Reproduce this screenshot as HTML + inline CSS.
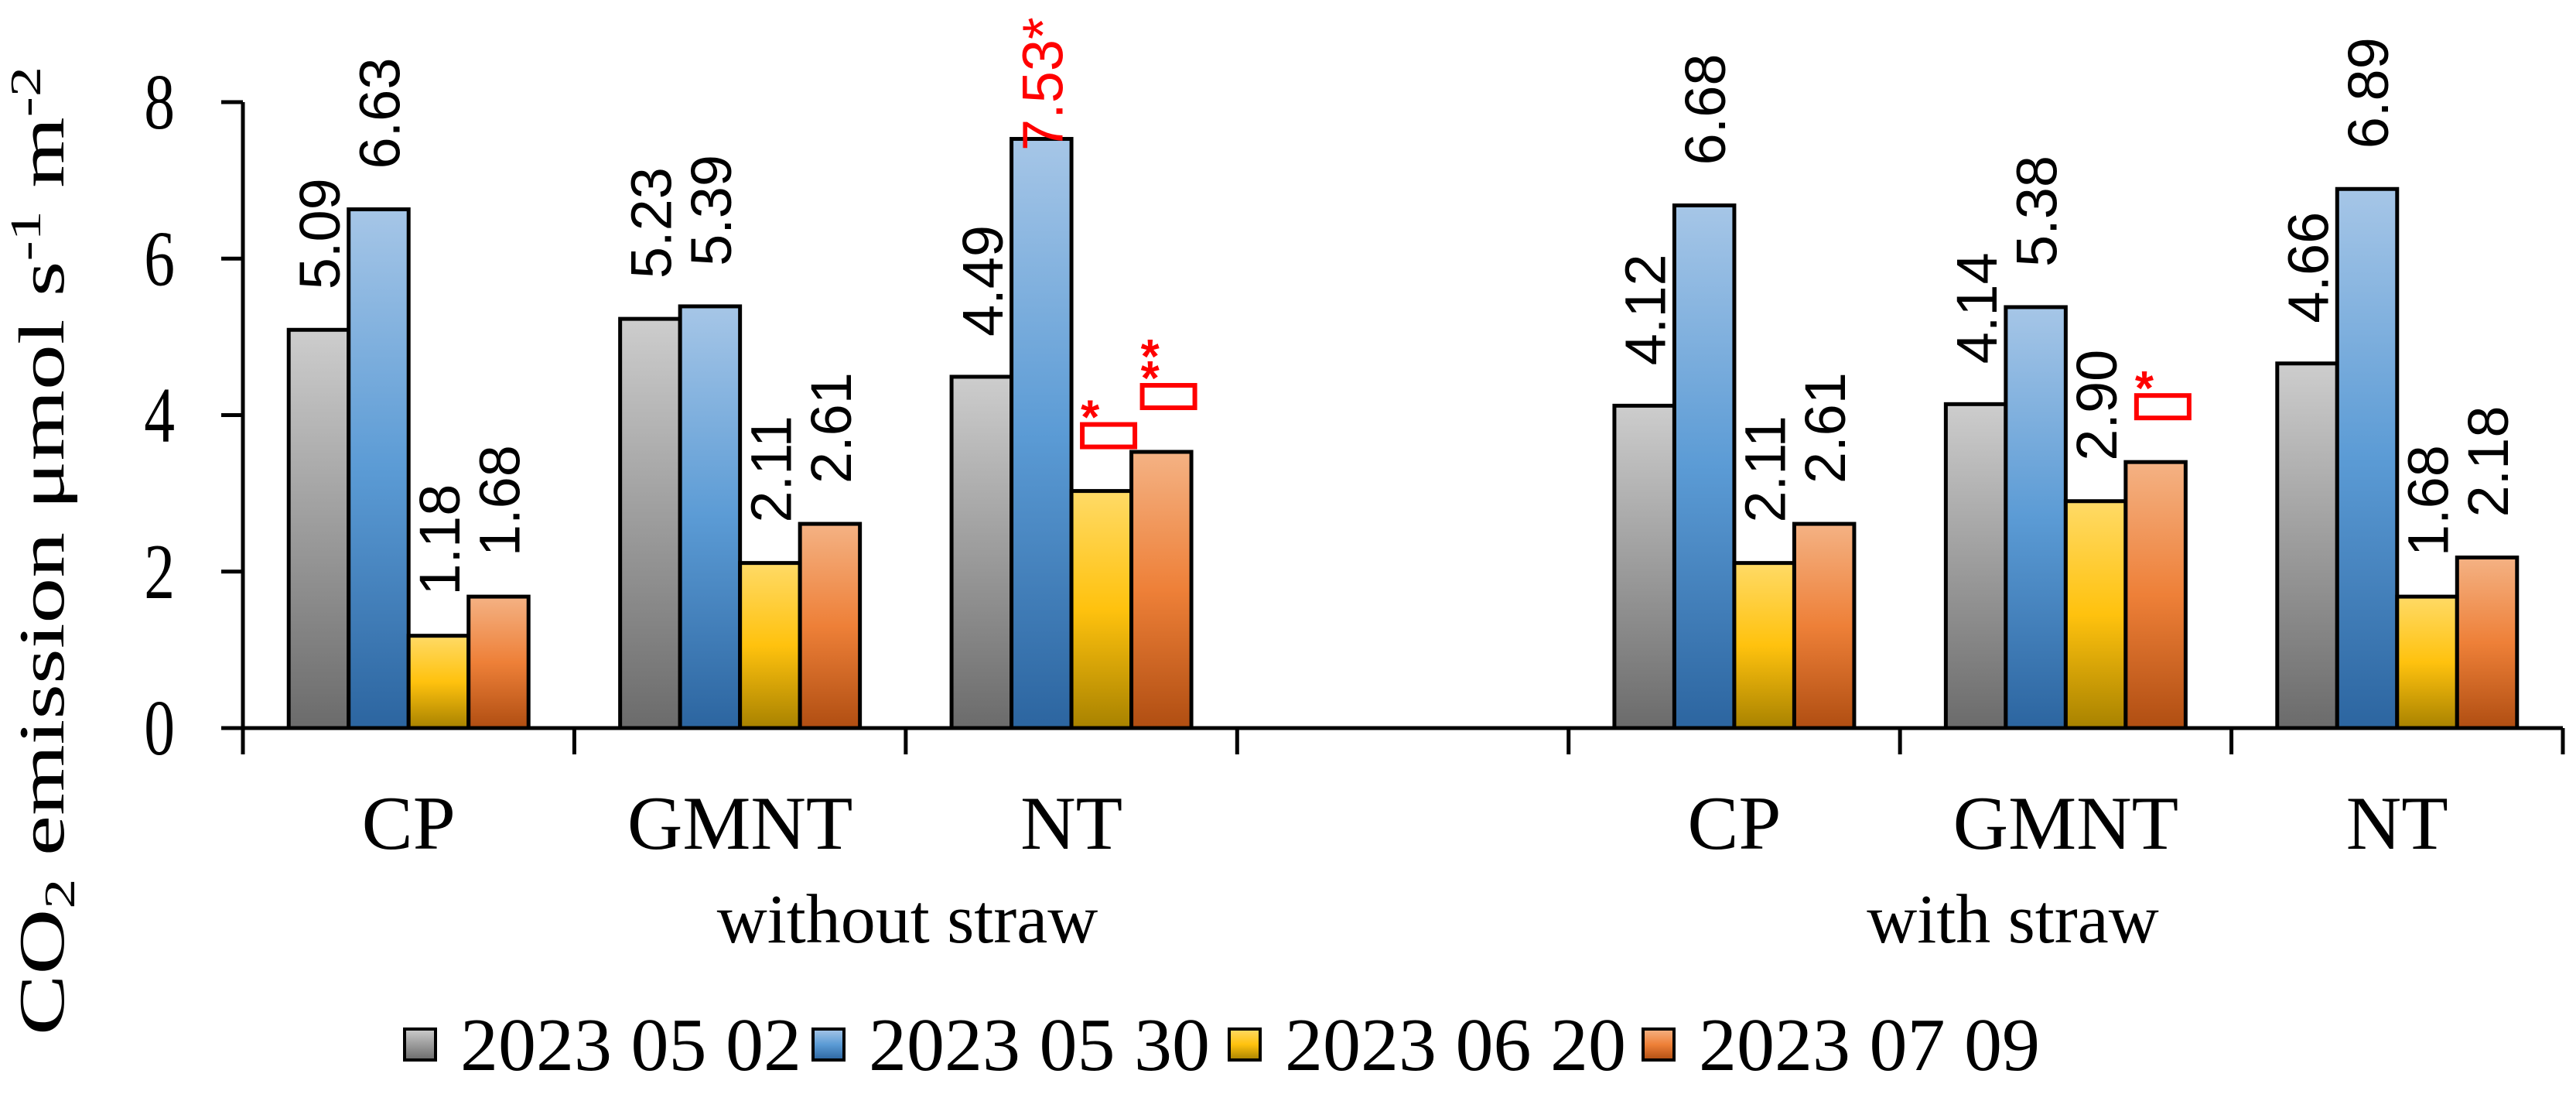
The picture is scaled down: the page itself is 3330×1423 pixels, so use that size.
<!DOCTYPE html>
<html><head><meta charset="utf-8"><style>
html,body{margin:0;padding:0;background:#fff;}
svg{display:block;}
</style></head><body>
<svg id="chart" width="3330" height="1423" viewBox="0 0 3330 1423" xmlns="http://www.w3.org/2000/svg">
<defs>
<linearGradient id="g0" x1="0" y1="0" x2="0" y2="1"><stop offset="0" stop-color="#cdcdcd"/><stop offset="1" stop-color="#6b6b6b"/></linearGradient>
<linearGradient id="g1" x1="0" y1="0" x2="0" y2="1"><stop offset="0" stop-color="#a6c6e7"/><stop offset="0.5" stop-color="#5b9bd5"/><stop offset="1" stop-color="#2c65a0"/></linearGradient>
<linearGradient id="g2" x1="0" y1="0" x2="0" y2="1"><stop offset="0" stop-color="#ffda66"/><stop offset="0.5" stop-color="#ffc20e"/><stop offset="1" stop-color="#a88200"/></linearGradient>
<linearGradient id="g3" x1="0" y1="0" x2="0" y2="1"><stop offset="0" stop-color="#f4b284"/><stop offset="0.5" stop-color="#ee8038"/><stop offset="1" stop-color="#b04e12"/></linearGradient>
</defs>
<g id="plot"></g>
</svg>
<script>
const categories = ["CP","GMNT","NT","","CP","GMNT","NT"];
const seriesNames = ["2023 05 02","2023 05 30","2023 06 20","2023 07 09"];
const s0502 = [5.09,5.23,4.49,null,4.12,4.14,4.66];
const s0530 = [6.63,5.39,7.53,null,6.68,5.38,6.89];
const s0620 = [1.18,2.11,3.03,null,2.11,2.90,1.68];
const s0709 = [1.68,2.61,3.53,null,2.61,3.40,2.18];
const labelsShown = [[1,1,1,null,1,1,1],[1,1,1,null,1,1,1],[1,1,0,null,1,1,1],[1,1,0,null,1,0,1]];
const yTicks = [0,2,4,6,8];
const groupLabels = ["without straw","with straw"];

const NS="http://www.w3.org/2000/svg";
const svg=document.getElementById('plot');
const X0=314, X1=3313, Y0=941, Y8=132, slotW=(X1-X0)/7, barW=77.5;
function yS(v){return Y0-(v/8)*(Y0-Y8);}
function xSlot(i){return X0+i*slotW;}
function mk(tag,attrs,parent){const e=document.createElementNS(NS,tag);for(const k in attrs)e.setAttribute(k,attrs[k]);(parent||svg).appendChild(e);return e;}
const series=[s0502,s0530,s0620,s0709];
const fills=["url(#g0)","url(#g1)","url(#g2)","url(#g3)"];
const sers=["gray","blue","yellow","orange"];
function barX(si,ci){return xSlot(ci)+(slotW-4*barW)/2+si*barW;}
series.forEach((arr,si)=>{
 arr.forEach((v,ci)=>{
  if(v===null)return;
  const x=barX(si,ci);
  const r=mk('rect',{x:x,y:yS(v),width:barW,height:Y0-yS(v),fill:fills[si],stroke:'#000','stroke-width':5});
  
  
  if(labelsShown[si][ci]){
   const red=(si===1&&ci===2);
   const txt=v.toFixed(2)+(red?'*':'');
   const len=txt.length*41-20;
   let base=yS(v)-52;
   if(base-len<10) base=Math.max(yS(v)-6, len+10);
   const t=mk('text',{x:0,y:0,transform:`translate(${x+barW/2+27},${base}) rotate(-90)`,'font-family':'Liberation Sans, sans-serif','font-size':74,fill:red?'#ff0000':'#000'});
   t.textContent=txt;
   
   
  }
 });
});
const marks=[[2,2,1],[3,2,2],[3,5,1]];
marks.forEach(m=>{
 const si=m[0],ci=m[1],n=m[2],v=series[si][ci];
 const x=barX(si,ci);
 const rTop=yS(v)-57-29;
 const g=mk('g',{});
 
 
 mk('rect',{x:x+14,y:rTop,width:68,height:29,fill:'none',stroke:'#ff0000','stroke-width':6},g);
 for(let k=0;k<n;k++){
  const t=mk('text',{x:x+12,y:rTop+12-k*28,'font-family':'Liberation Sans, sans-serif','font-size':62,'font-weight':'bold',fill:'#ff0000'},g);
  t.textContent='*';
 }
});
const ax=mk('line',{x1:X0,y1:Y0,x2:X1,y2:Y0,stroke:'#000','stroke-width':5});


const ay=mk('line',{x1:X0,y1:Y0+2,x2:X0,y2:Y8,stroke:'#000','stroke-width':5});


for(let i=0;i<=7;i++){mk('line',{x1:xSlot(i),y1:Y0,x2:xSlot(i),y2:Y0+34,stroke:'#000','stroke-width':5});}
yTicks.forEach(v=>{
 mk('line',{x1:X0-28,y1:yS(v),x2:X0,y2:yS(v),stroke:'#000','stroke-width':5});
 const t=mk('text',{x:0,y:0,transform:`translate(226,${yS(v)+34}) scale(0.78,1)`,'text-anchor':'end','font-family':'Liberation Serif, serif','font-size':102});
 t.textContent=v;
 
 
});
categories.forEach((c,i)=>{
 if(!c)return;
 const t=mk('text',{x:xSlot(i)+slotW/2,y:1097,'text-anchor':'middle','font-family':'Liberation Serif, serif','font-size':99});
 t.textContent=c;
 
 
});
const gx=[1173,2602];
groupLabels.forEach((g,i)=>{
 const t=mk('text',{x:gx[i],y:1218,'text-anchor':'middle','font-family':'Liberation Serif, serif','font-size':90});
 t.textContent=g;
 
 
});
const yt=mk('text',{x:0,y:0,transform:'translate(82,712) rotate(-90) scale(1.4,1)','text-anchor':'middle','font-family':'Liberation Serif, serif','font-size':84});
yt.innerHTML='CO<tspan font-size="56" dy="14">2</tspan><tspan dy="-14"> emission μmol s</tspan><tspan font-size="56" dy="-30">-1</tspan><tspan dy="30"> m</tspan><tspan font-size="56" dy="-30">-2</tspan>';


const lx=[523,1051,1589,2124];
seriesNames.forEach((n,i)=>{
 const g=mk('g',{});
 
 
 mk('rect',{x:lx[i],y:1330,width:40,height:40,fill:fills[i],stroke:'#000','stroke-width':4},g);
 const t=mk('text',{x:lx[i]+72,y:1383,'font-family':'Liberation Serif, serif','font-size':98},g);
 t.textContent=n;
});
</script>
</body></html>
